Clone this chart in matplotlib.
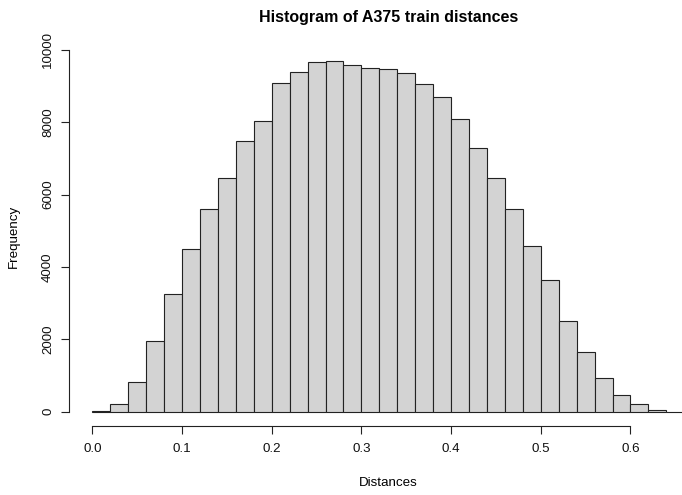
import numpy as np
import matplotlib.pyplot as plt

plt.rcParams['font.family'] = ['Liberation Sans', 'DejaVu Sans']

# histogram bins (width 0.02) and counts per bin
breaks = np.round(np.arange(0.0, 0.66 + 1e-9, 0.02), 2)
counts = [10, 205, 820, 1950, 3240, 4490, 5600, 6450, 7470, 8050,
          9100, 9390, 9660, 9700, 9575, 9500, 9465, 9355, 9050, 8700,
          8100, 7295, 6465, 5600, 4570, 3650, 2520, 1660, 940, 453,
          205, 47, 4]
xticks = [0.0, 0.1, 0.2, 0.3, 0.4, 0.5, 0.6]
yticks = [0, 2000, 4000, 6000, 8000, 10000]

title = 'Histogram of A375 train distances'
xLabel = 'Distances'
yLabel = 'Frequency'

fontsize = 9.6
W, H = 682, 495

fig = plt.figure(figsize=(W / 100, H / 100), dpi=100)
# plot region in pixels (R style, 4% padding around the data range)
left, right, top, bottom = 68.6, 708.0, 46.8, 425.7
ax = fig.add_axes([left / W, 1 - bottom / H, (right - left) / W, (bottom - top) / H])

ax.bar(breaks[:-1], counts, width=np.diff(breaks), align='edge',
       color='#d3d3d3', edgecolor='#222222', linewidth=0.8)

xr = breaks[-1] - breaks[0]
ax.set_xlim(breaks[0] - 0.04 * xr, breaks[-1] + 0.04 * xr)
yr = max(counts)
ax.set_ylim(-0.04 * yr, 1.04 * yr)

ax.spines['right'].set_visible(False)
ax.spines['top'].set_visible(False)
ax.spines['left'].set_bounds(yticks[0], yticks[-1])
ax.spines['bottom'].set_bounds(xticks[0], xticks[-1])
for s in ('left', 'bottom'):
    ax.spines[s].set_linewidth(0.8)
    ax.spines[s].set_color('#222222')

ax.set_xticks(xticks)
ax.set_xticklabels(['%.1f' % t for t in xticks])
ax.set_yticks(yticks)
ax.set_yticklabels([str(t) for t in yticks], rotation=90, va='center')
ax.tick_params(axis='both', direction='out', length=5.5, width=0.8,
               color='#222222', labelsize=fontsize, labelcolor='#111111')
ax.tick_params(axis='x', pad=7)
ax.tick_params(axis='y', pad=5)

ax.set_title(title, fontsize=fontsize * 1.2, fontweight='bold', pad=18)

cx = (left + right) / 2 / W
fig.text(cx, 1 - 483 / H, xLabel, ha='center', va='center', fontsize=fontsize)
fig.text(14 / W, 1 - (top + bottom) / 2 / H, yLabel, ha='center', va='center',
         rotation=90, fontsize=fontsize)

fig.savefig('out.png', dpi=100)
